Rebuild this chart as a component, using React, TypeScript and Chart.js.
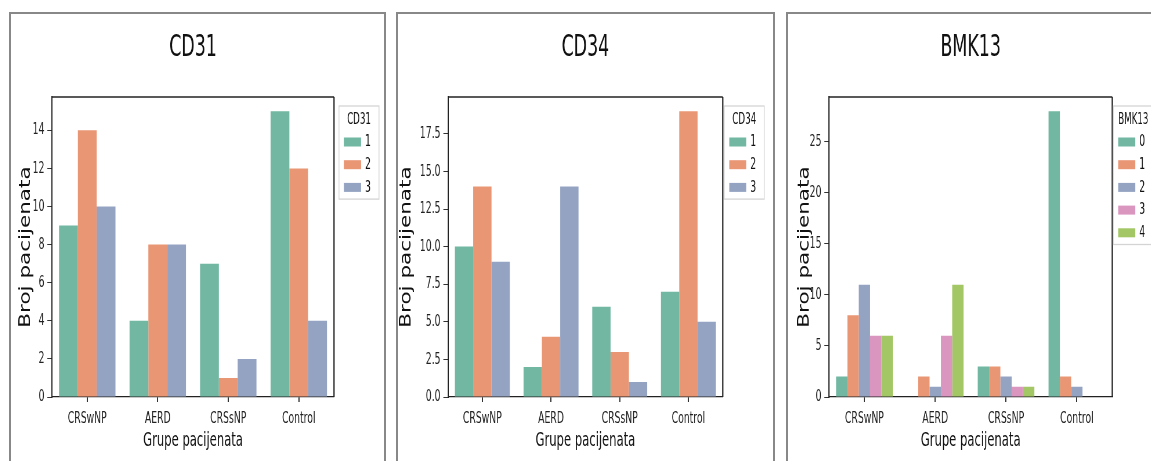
import React, { useEffect, useRef } from 'react';
import { Chart, registerables } from 'chart.js';

Chart.register(...registerables);

// ---------------- data ----------------
const categories = ['CRSwNP', 'AERD', 'CRSsNP', 'Control'];

const cd31Levels = ['1', '2', '3'];
const cd31Level1 = [9, 4, 7, 15];
const cd31Level2 = [14, 8, 1, 12];
const cd31Level3 = [10, 8, 2, 4];

const cd34Levels = ['1', '2', '3'];
const cd34Level1 = [10, 2, 6, 7];
const cd34Level2 = [14, 4, 3, 19];
const cd34Level3 = [9, 14, 1, 5];

const bmk13Levels = ['0', '1', '2', '3', '4'];
const bmk13Level0 = [2, 0, 3, 28];
const bmk13Level1 = [8, 2, 3, 2];
const bmk13Level2 = [11, 1, 2, 1];
const bmk13Level3 = [6, 6, 1, 0];
const bmk13Level4 = [6, 11, 1, 0];

const xAxisTitle = 'Grupe pacijenata';
const yAxisTitle = 'Broj pacijenata';

// seaborn Set2 (desaturated 0.75)
const palette = ['#71b7a1', '#e99675', '#95a3c3', '#db96c0', '#a2c764'];

// ---------------- layout ----------------
const S = 0.58; // horizontal condensing of the drawing
const YT = 0.7; // horizontal condensing of the y-axis title
const H = 461;
const FONT = "'DejaVu Sans', sans-serif";

type PanelCfg = {
  title: string;
  levels: string[];
  series: number[][];
  yMax: number;
  step: number;
  decimals: number;
  frameLeft: number;
  frameRight: number;
  plotLeft: number;
  plotRight: number;
  yTitleX: number;
  legendDx: number;
};

const panels: PanelCfg[] = [
  {
    title: 'CD31', levels: cd31Levels, series: [cd31Level1, cd31Level2, cd31Level3],
    yMax: 15.75, step: 2, decimals: 0,
    frameLeft: 9, frameRight: 386, plotLeft: 52, plotRight: 334, yTitleX: 25.7, legendDx: 5,
  },
  {
    title: 'CD34', levels: cd34Levels, series: [cd34Level1, cd34Level2, cd34Level3],
    yMax: 19.95, step: 2.5, decimals: 1,
    frameLeft: 396, frameRight: 775, plotLeft: 448, plotRight: 723, yTitleX: 406.5, legendDx: 1.5,
  },
  {
    title: 'BMK13', levels: bmk13Levels,
    series: [bmk13Level0, bmk13Level1, bmk13Level2, bmk13Level3, bmk13Level4],
    yMax: 29.4, step: 5, decimals: 0,
    frameLeft: 786, frameRight: 1190, plotLeft: 829, plotRight: 1112, yTitleX: 804.5, legendDx: 1,
  },
];

// ---------------- plugins ----------------
const spinePlugin = {
  id: 'spines',
  afterDatasetsDraw(chart: any) {
    const { ctx, chartArea } = chart;
    ctx.save();
    ctx.strokeStyle = '#222';
    ctx.lineWidth = 1.3;
    ctx.beginPath();
    ctx.moveTo(chartArea.left, chartArea.top);
    ctx.lineTo(chartArea.right, chartArea.top);
    ctx.stroke();
    ctx.lineWidth = 1.3 / S;
    ctx.beginPath();
    ctx.moveTo(chartArea.right, chartArea.top);
    ctx.lineTo(chartArea.right, chartArea.bottom);
    ctx.stroke();
    ctx.restore();
  },
};

const yTitlePlugin = {
  id: 'yTitle',
  afterDraw(chart: any, _args: any, opts: any) {
    const { ctx, chartArea } = chart;
    ctx.save();
    ctx.translate(opts.x, (chartArea.top + chartArea.bottom) / 2);
    ctx.scale(YT / S, 1);
    ctx.rotate(-Math.PI / 2);
    ctx.font = `21.5px ${FONT}`;
    ctx.fillStyle = '#111';
    ctx.textAlign = 'center';
    ctx.textBaseline = 'middle';
    ctx.fillText(opts.text, 0, 0);
    ctx.restore();
  },
};

const sideLegendPlugin = {
  id: 'sideLegend',
  afterDraw(chart: any, _args: any, opts: any) {
    const { ctx, chartArea } = chart;
    const ds = chart.data.datasets;
    const x0 = chartArea.right + opts.dx / S;
    const y0 = chartArea.top + 9;
    const w = 40 / S;
    const rowStep = 22.7;
    const h = 25 + ds.length * rowStep;
    ctx.save();
    ctx.fillStyle = 'rgba(255,255,255,0.85)';
    ctx.fillRect(x0, y0, w, h);
    ctx.strokeStyle = '#d4d4d4';
    ctx.lineWidth = 1.3;
    ctx.strokeRect(x0, y0, w, h);
    ctx.fillStyle = '#111';
    ctx.textBaseline = 'middle';
    ctx.textAlign = 'center';
    ctx.font = `15px ${FONT}`;
    ctx.fillText(opts.title, x0 + w / 2, y0 + 14);
    ctx.textAlign = 'left';
    ctx.font = `16px ${FONT}`;
    ds.forEach((d: any, i: number) => {
      const cy = y0 + 36 + i * rowStep;
      ctx.fillStyle = d.backgroundColor;
      ctx.fillRect(x0 + 5 / S, cy - 4.5, 17 / S, 9);
      ctx.fillStyle = '#111';
      ctx.fillText(d.label, x0 + 26 / S, cy);
    });
    ctx.restore();
  },
};

// ---------------- components ----------------
function Panel({ cfg }: { cfg: PanelCfg }) {
  const ref = useRef<HTMLCanvasElement>(null);
  const vw = cfg.frameRight - cfg.frameLeft;
  const iw = Math.round(vw / S);

  useEffect(() => {
    const canvas = ref.current;
    if (!canvas) return;
    const chart = new Chart(canvas, {
      type: 'bar',
      data: {
        labels: categories,
        datasets: cfg.levels.map((lvl, i) => ({
          label: lvl,
          data: cfg.series[i],
          backgroundColor: palette[i],
          borderWidth: 0,
          categoryPercentage: 0.8,
          barPercentage: 1.0,
        })),
      },
      options: {
        responsive: false,
        animation: false,
        devicePixelRatio: 1,
        layout: {
          padding: { left: 0, right: (cfg.frameRight - cfg.plotRight) / S, top: 0, bottom: 0 },
        },
        plugins: {
          legend: { display: false },
          tooltip: { enabled: false },
          title: {
            display: true,
            text: cfg.title,
            fullSize: false,
            color: '#111',
            font: { family: FONT, size: 30, weight: 'normal' },
            padding: { top: 30, bottom: 31 },
          },
          sideLegend: { title: cfg.title, dx: cfg.legendDx },
          yTitle: { text: yAxisTitle, x: (cfg.yTitleX - cfg.frameLeft) / S },
        } as any,
        scales: {
          x: {
            type: 'category',
            offset: true,
            grid: {
              display: true,
              drawOnChartArea: false,
              drawTicks: true,
              tickLength: 5,
              offset: false,
              lineWidth: 2,
              color: '#333',
            },
            border: { display: true, color: '#222', width: 1.3 },
            ticks: {
              color: '#222',
              font: { family: FONT, size: 16 },
              padding: 7,
              maxRotation: 0,
              minRotation: 0,
              autoSkip: false,
            },
            title: {
              display: true,
              text: xAxisTitle,
              color: '#111',
              font: { family: FONT, size: 20 },
              padding: { top: 0, bottom: 8 },
            },
            afterFit: (sc: any) => {
              sc.height = H - 397;
            },
          },
          y: {
            min: 0,
            max: cfg.yMax,
            grid: {
              display: true,
              drawOnChartArea: false,
              drawTicks: true,
              tickLength: 8,
              lineWidth: 1,
              color: '#333',
            },
            border: { display: true, color: '#222', width: 2 },
            ticks: {
              stepSize: cfg.step,
              includeBounds: false,
              color: '#222',
              font: { family: FONT, size: 16 },
              padding: 5,
              callback: (v: any) => Number(v).toFixed(cfg.decimals),
            },
            afterFit: (sc: any) => {
              sc.width = (cfg.plotLeft - cfg.frameLeft) / S;
            },
          },
        } as any,
      },
      plugins: [spinePlugin, yTitlePlugin, sideLegendPlugin],
    });
    return () => chart.destroy();
  }, []);

  return (
    <canvas
      ref={ref}
      width={iw}
      height={H}
      style={{
        position: 'absolute',
        left: cfg.frameLeft,
        top: 0,
        width: iw,
        height: H,
        transform: `scaleX(${S})`,
        transformOrigin: '0 0',
      }}
    />
  );
}

export default function App() {
  return (
    <div
      style={{
        position: 'fixed',
        left: 0,
        top: 0,
        width: 1151,
        height: H,
        overflow: 'hidden',
        background: '#fff',
      }}
    >
      {panels.map((p) => (
        <Panel key={p.title} cfg={p} />
      ))}
      {panels.map((p) => (
        <div
          key={'f' + p.title}
          style={{
            position: 'absolute',
            left: p.frameLeft,
            top: 12,
            width: p.frameRight - p.frameLeft,
            height: 520,
            border: '2px solid #888',
            boxSizing: 'border-box',
            pointerEvents: 'none',
          }}
        />
      ))}
    </div>
  );
}
